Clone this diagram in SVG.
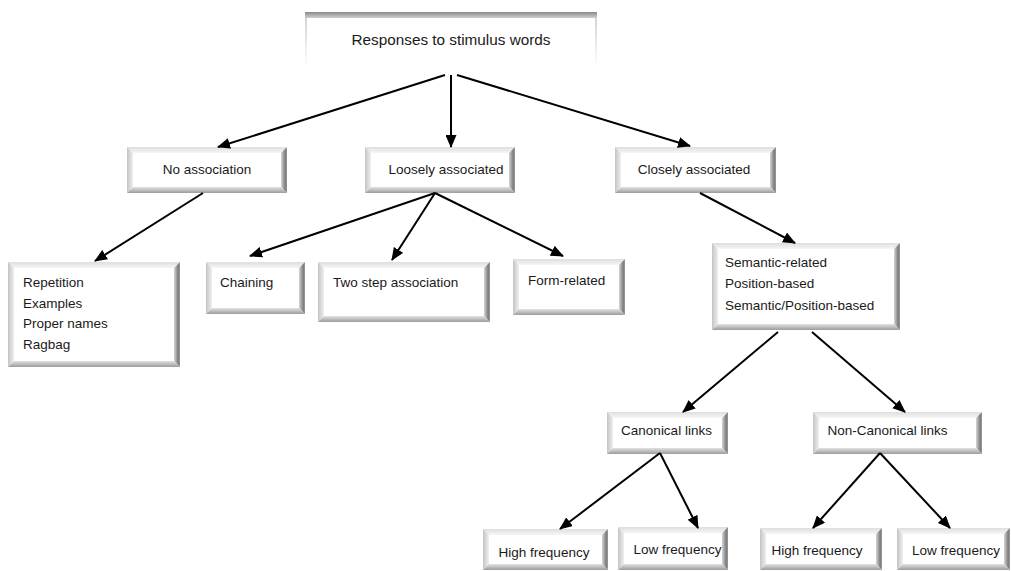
<svg xmlns="http://www.w3.org/2000/svg" width="1012" height="571" viewBox="0 0 1012 571">
  <defs>
    <linearGradient id="gTop" x1="0" y1="0" x2="0" y2="1">
      <stop offset="0" stop-color="#dedede"/>
      <stop offset="1" stop-color="#f6f6f6"/>
    </linearGradient>
    <linearGradient id="gLeft" x1="0" y1="0" x2="1" y2="0">
      <stop offset="0" stop-color="#c4c4c4"/>
      <stop offset="1" stop-color="#efefef"/>
    </linearGradient>
    <linearGradient id="gRight" x1="0" y1="0" x2="1" y2="0">
      <stop offset="0" stop-color="#d6d6d6"/>
      <stop offset="0.7" stop-color="#7c7c7c"/>
      <stop offset="1" stop-color="#9a9a9a"/>
    </linearGradient>
    <linearGradient id="gBottom" x1="0" y1="0" x2="0" y2="1">
      <stop offset="0" stop-color="#e2e2e2"/>
      <stop offset="1" stop-color="#9c9c9c"/>
    </linearGradient>
    <linearGradient id="gBar" x1="0" y1="0" x2="0" y2="1">
      <stop offset="0" stop-color="#8a8a8a"/>
      <stop offset="1" stop-color="#d0d0d0"/>
    </linearGradient>
    <linearGradient id="gSide" x1="0" y1="0" x2="0" y2="1">
      <stop offset="0" stop-color="#cfcfcf"/>
      <stop offset="1" stop-color="#ffffff"/>
    </linearGradient>
    <marker id="arrow" markerUnits="userSpaceOnUse" markerWidth="13" markerHeight="11" refX="12" refY="5.5" orient="auto">
      <path d="M0,0 L13,5.5 L0,11 Z" fill="#000"/>
    </marker>
  </defs>
  <style>
    .bt { fill: url(#gTop); }
    .bl { fill: url(#gLeft); }
    .br { fill: url(#gRight); }
    .bb { fill: url(#gBottom); }
    .face { fill: #ffffff; }
    text { font-family: "Liberation Sans", Arial, sans-serif; font-size: 13.5px; fill: #1a1a1a; }
    .c { text-anchor: middle; }
    .title { font-size: 15.3px; }
    .link { stroke: #000; stroke-width: 2; fill: none; marker-end: url(#arrow); }
  </style>

  <rect width="1012" height="571" fill="#ffffff"/>

  <!-- root node -->
  <g id="root">
    <rect x="305" y="12" width="292" height="56" fill="#ffffff"/>
    <rect x="305" y="12" width="2" height="56" fill="url(#gSide)"/>
    <rect x="595" y="12" width="2" height="56" fill="url(#gSide)"/>
    <rect x="305" y="12" width="292" height="6" fill="url(#gBar)"/>
    <text class="c title" x="451" y="45">Responses to stimulus words</text>
  </g>

  <!-- level 1 -->
  <g id="no-association" transform="translate(127,147)">
    <polygon class="bt" points="0,0 160,0 154,6 6,6"/>
    <polygon class="bl" points="0,0 6,6 6,40 0,46"/>
    <polygon class="br" points="160,0 160,46 154,40 154,6"/>
    <polygon class="bb" points="0,46 6,40 154,40 160,46"/>
    <rect class="face" x="6" y="6" width="148" height="34"/>
    <text class="c" x="80" y="27">No association</text>
  </g>

  <g id="loosely-associated" transform="translate(365,147)">
    <polygon class="bt" points="0,0 150,0 144,6 6,6"/>
    <polygon class="bl" points="0,0 6,6 6,40 0,46"/>
    <polygon class="br" points="150,0 150,46 144,40 144,6"/>
    <polygon class="bb" points="0,46 6,40 144,40 150,46"/>
    <rect class="face" x="6" y="6" width="138" height="34"/>
    <text class="c" x="81" y="27">Loosely associated</text>
  </g>

  <g id="closely-associated" transform="translate(615,147)">
    <polygon class="bt" points="0,0 161,0 155,6 6,6"/>
    <polygon class="bl" points="0,0 6,6 6,40 0,46"/>
    <polygon class="br" points="161,0 161,46 155,40 155,6"/>
    <polygon class="bb" points="0,46 6,40 155,40 161,46"/>
    <rect class="face" x="6" y="6" width="149" height="34"/>
    <text class="c" x="79" y="27">Closely associated</text>
  </g>

  <!-- level 2 -->
  <g id="no-association-types" transform="translate(8,262)">
    <polygon class="bt" points="0,0 172,0 166,6 6,6"/>
    <polygon class="bl" points="0,0 6,6 6,99 0,105"/>
    <polygon class="br" points="172,0 172,105 166,99 166,6"/>
    <polygon class="bb" points="0,105 6,99 166,99 172,105"/>
    <rect class="face" x="6" y="6" width="160" height="93"/>
    <text x="15" y="25">Repetition</text>
    <text x="15" y="46">Examples</text>
    <text x="15" y="66">Proper names</text>
    <text x="15" y="87">Ragbag</text>
  </g>

  <g id="chaining" transform="translate(206,262)">
    <polygon class="bt" points="0,0 99,0 93,6 6,6"/>
    <polygon class="bl" points="0,0 6,6 6,46 0,52"/>
    <polygon class="br" points="99,0 99,52 93,46 93,6"/>
    <polygon class="bb" points="0,52 6,46 93,46 99,52"/>
    <rect class="face" x="6" y="6" width="87" height="40"/>
    <text x="14" y="25">Chaining</text>
  </g>

  <g id="two-step" transform="translate(318,262)">
    <polygon class="bt" points="0,0 172,0 166,6 6,6"/>
    <polygon class="bl" points="0,0 6,6 6,54 0,60"/>
    <polygon class="br" points="172,0 172,60 166,54 166,6"/>
    <polygon class="bb" points="0,60 6,54 166,54 172,60"/>
    <rect class="face" x="6" y="6" width="160" height="48"/>
    <text x="15" y="25">Two step association</text>
  </g>

  <g id="form-related" transform="translate(513,259)">
    <polygon class="bt" points="0,0 112,0 106,6 6,6"/>
    <polygon class="bl" points="0,0 6,6 6,50 0,56"/>
    <polygon class="br" points="112,0 112,56 106,50 106,6"/>
    <polygon class="bb" points="0,56 6,50 106,50 112,56"/>
    <rect class="face" x="6" y="6" width="100" height="44"/>
    <text x="15" y="26">Form-related</text>
  </g>

  <g id="semantic" transform="translate(712,243)">
    <polygon class="bt" points="0,0 188,0 182,6 6,6"/>
    <polygon class="bl" points="0,0 6,6 6,81 0,87"/>
    <polygon class="br" points="188,0 188,87 182,81 182,6"/>
    <polygon class="bb" points="0,87 6,81 182,81 188,87"/>
    <rect class="face" x="6" y="6" width="176" height="75"/>
    <text x="13" y="24">Semantic-related</text>
    <text x="13" y="45">Position-based</text>
    <text x="13" y="67">Semantic/Position-based</text>
  </g>

  <!-- level 3 -->
  <g id="canonical" transform="translate(607,412)">
    <polygon class="bt" points="0,0 121,0 115,6 6,6"/>
    <polygon class="bl" points="0,0 6,6 6,36 0,42"/>
    <polygon class="br" points="121,0 121,42 115,36 115,6"/>
    <polygon class="bb" points="0,42 6,36 115,36 121,42"/>
    <rect class="face" x="6" y="6" width="109" height="30"/>
    <text class="c" x="59.5" y="23">Canonical links</text>
  </g>

  <g id="non-canonical" transform="translate(813,412)">
    <polygon class="bt" points="0,0 169,0 163,6 6,6"/>
    <polygon class="bl" points="0,0 6,6 6,36 0,42"/>
    <polygon class="br" points="169,0 169,42 163,36 163,6"/>
    <polygon class="bb" points="0,42 6,36 163,36 169,42"/>
    <rect class="face" x="6" y="6" width="157" height="30"/>
    <text class="c" x="74.5" y="23">Non-Canonical links</text>
  </g>

  <!-- level 4 -->
  <g id="canonical-high" transform="translate(483,529)">
    <polygon class="bt" points="0,0 125,0 119,6 6,6"/>
    <polygon class="bl" points="0,0 6,6 6,35 0,41"/>
    <polygon class="br" points="125,0 125,41 119,35 119,6"/>
    <polygon class="bb" points="0,41 6,35 119,35 125,41"/>
    <rect class="face" x="6" y="6" width="113" height="29"/>
    <text class="c" x="61" y="28">High frequency</text>
  </g>

  <g id="canonical-low" transform="translate(618,527)">
    <polygon class="bt" points="0,0 110,0 104,6 6,6"/>
    <polygon class="bl" points="0,0 6,6 6,37 0,43"/>
    <polygon class="br" points="110,0 110,43 104,37 104,6"/>
    <polygon class="bb" points="0,43 6,37 104,37 110,43"/>
    <rect class="face" x="6" y="6" width="98" height="31"/>
    <text class="c" x="59.5" y="27">Low frequency</text>
  </g>

  <g id="non-canonical-high" transform="translate(760,528)">
    <polygon class="bt" points="0,0 122,0 116,6 6,6"/>
    <polygon class="bl" points="0,0 6,6 6,36 0,42"/>
    <polygon class="br" points="122,0 122,42 116,36 116,6"/>
    <polygon class="bb" points="0,42 6,36 116,36 122,42"/>
    <rect class="face" x="6" y="6" width="110" height="30"/>
    <text class="c" x="57" y="27">High frequency</text>
  </g>

  <g id="non-canonical-low" transform="translate(897,528)">
    <polygon class="bt" points="0,0 113,0 107,6 6,6"/>
    <polygon class="bl" points="0,0 6,6 6,36 0,42"/>
    <polygon class="br" points="113,0 113,42 107,36 107,6"/>
    <polygon class="bb" points="0,42 6,36 107,36 113,42"/>
    <rect class="face" x="6" y="6" width="101" height="30"/>
    <text class="c" x="59" y="27">Low frequency</text>
  </g>

  <!-- connectors -->
  <g id="connectors">
    <line class="link" x1="445" y1="75" x2="218" y2="147"/>
    <line class="link" x1="451" y1="75" x2="451" y2="147"/>
    <line class="link" x1="457" y1="75" x2="690" y2="146"/>
    <line class="link" x1="203" y1="193" x2="95" y2="261"/>
    <line class="link" x1="435" y1="193" x2="250" y2="256"/>
    <line class="link" x1="435" y1="193" x2="392" y2="260"/>
    <line class="link" x1="435" y1="193" x2="563" y2="256"/>
    <line class="link" x1="700" y1="193" x2="795" y2="243"/>
    <line class="link" x1="778" y1="332" x2="683" y2="412"/>
    <line class="link" x1="812" y1="332" x2="905" y2="412"/>
    <line class="link" x1="660" y1="453" x2="560" y2="529"/>
    <line class="link" x1="660" y1="453" x2="698" y2="528"/>
    <line class="link" x1="880" y1="453" x2="813" y2="528"/>
    <line class="link" x1="880" y1="453" x2="950" y2="528"/>
  </g>
</svg>
